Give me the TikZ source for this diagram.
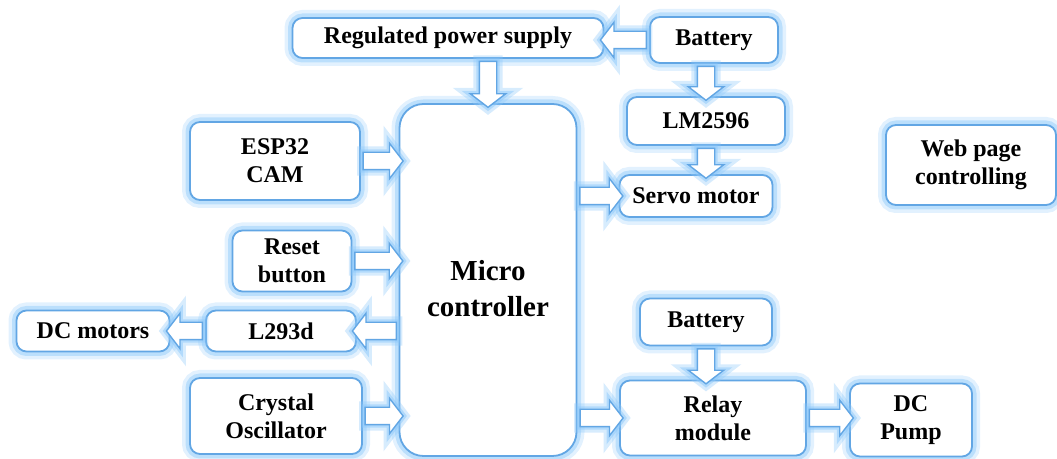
\documentclass[tikz,border=0pt]{standalone}
\usepackage{fontspec}
\setmainfont{Liberation Serif}
\usetikzlibrary{shapes.arrows, positioning, calc}
\definecolor{edgeblue}{RGB}{98,166,228}
\definecolor{glowblue}{RGB}{140,200,250}

\begin{document}
\begin{tikzpicture}[
    x=0.5pt, y=-0.5pt,
    block/.style={draw=edgeblue, line width=0.9pt, fill=white, rounded corners=5pt,
                  align=center, inner sep=2pt,
                  font=\bfseries\fontsize{12}{14}\selectfont,
                  preaction={draw=glowblue, line width=8pt, opacity=0.25},
                  preaction={draw=glowblue, line width=4.5pt, opacity=0.45}},
    arr/.style={single arrow, draw=edgeblue, line width=0.7pt, fill=white,
                inner xsep=0pt, inner ysep=4pt, minimum width=0pt,
                single arrow head extend=4.5pt, single arrow tip angle=105,
                preaction={draw=glowblue, line width=6pt, opacity=0.35},
                preaction={draw=glowblue, line width=3pt, opacity=0.5}},
  ]
  \useasboundingbox (0,0) rectangle (1057,459);

  % Power side
  \node[block, minimum width=155.5pt, minimum height=20pt] (rps) at (448,38) {Regulated power supply};
  \node[block, minimum width=64pt, minimum height=23pt] (bat1) at (714,40) {Battery};
  \node[block, minimum width=79pt, minimum height=24pt] (lm) at (706,121) {LM2596};
  \node[block, minimum width=76.5pt, minimum height=21pt] (servo) at (696,196) {Servo motor};
  \node[block, minimum width=85pt, minimum height=40pt] (web) at (971,165) {Web page\\controlling};

  % Controller
  \node[block, rounded corners=12pt, minimum width=88.5pt, minimum height=176pt,
        font=\bfseries\fontsize{14.5}{18}\selectfont] (mc) at (488,280)
    {\raisebox{-9.5pt}[0pt][0pt]{\begin{tabular}{@{}c@{}}Micro\\controller\end{tabular}}};

  % Left side
  \node[block, minimum width=85pt, minimum height=39pt] (esp) at (275,161) {ESP32\\CAM};
  \node[block, minimum width=59.5pt, minimum height=30.5pt] (reset) at (292,261) {Reset\\button};
  \node[block, minimum width=75pt, minimum height=20.5pt] (l293) at (281,331) {L293d};
  \node[block, minimum width=76.5pt, minimum height=20.5pt] (dcm) at (93,331) {DC motors};
  \node[block, minimum width=86pt, minimum height=38pt] (xtal) at (276,416) {Crystal\\Oscillator};

  % Relay side
  \node[block, minimum width=66pt, minimum height=23.5pt] (bat2) at (706,322) {Battery};
  \node[block, minimum width=93pt, minimum height=37.5pt] (relay) at (713,418) {Relay\\module};
  \node[block, minimum width=61pt, minimum height=36.5pt] (pump) at (911,420) {DC\\Pump};

  % Block arrows
  \path (bat1.west) -- (bat1.west -| rps.east)
    node[midway, sloped, allow upside down, arr, minimum height=23pt] {};
  \path (mc.north |- rps.south) -- (mc.north)
    node[midway, sloped, allow upside down, arr, minimum height=23pt] {};
  \path (lm.north |- bat1.south) -- (lm.north)
    node[midway, sloped, allow upside down, arr, minimum height=17pt] {};
  \path (lm.south) -- (lm.south |- servo.north)
    node[midway, sloped, allow upside down, arr, minimum height=15pt] {};
  \path (mc.east |- servo) -- (servo.west)
    node[midway, sloped, allow upside down, arr, minimum height=21.5pt] {};
  \path (esp.east) -- (esp.east -| mc.west)
    node[midway, sloped, allow upside down, arr, minimum height=20pt] {};
  \path (reset.east) -- (reset.east -| mc.west)
    node[midway, sloped, allow upside down, arr, minimum height=24pt] {};
  \path (mc.west |- l293) -- (l293.east)
    node[midway, sloped, allow upside down, arr, minimum height=22pt] {};
  \path (l293.west) -- (dcm.east)
    node[midway, sloped, allow upside down, arr, minimum height=18pt] {};
  \path (xtal.east) -- (xtal.east -| mc.west)
    node[midway, sloped, allow upside down, arr, minimum height=19pt] {};
  \path (mc.east |- relay) -- (relay.west)
    node[midway, sloped, allow upside down, arr, minimum height=21.5pt] {};
  \path (bat2.south) -- (bat2.south |- relay.north)
    node[midway, sloped, allow upside down, arr, minimum height=17.5pt] {};
  \path (relay.east) -- (relay.east -| pump.west)
    node[midway, sloped, allow upside down, arr, minimum height=22pt] {};
\end{tikzpicture}
\end{document}
